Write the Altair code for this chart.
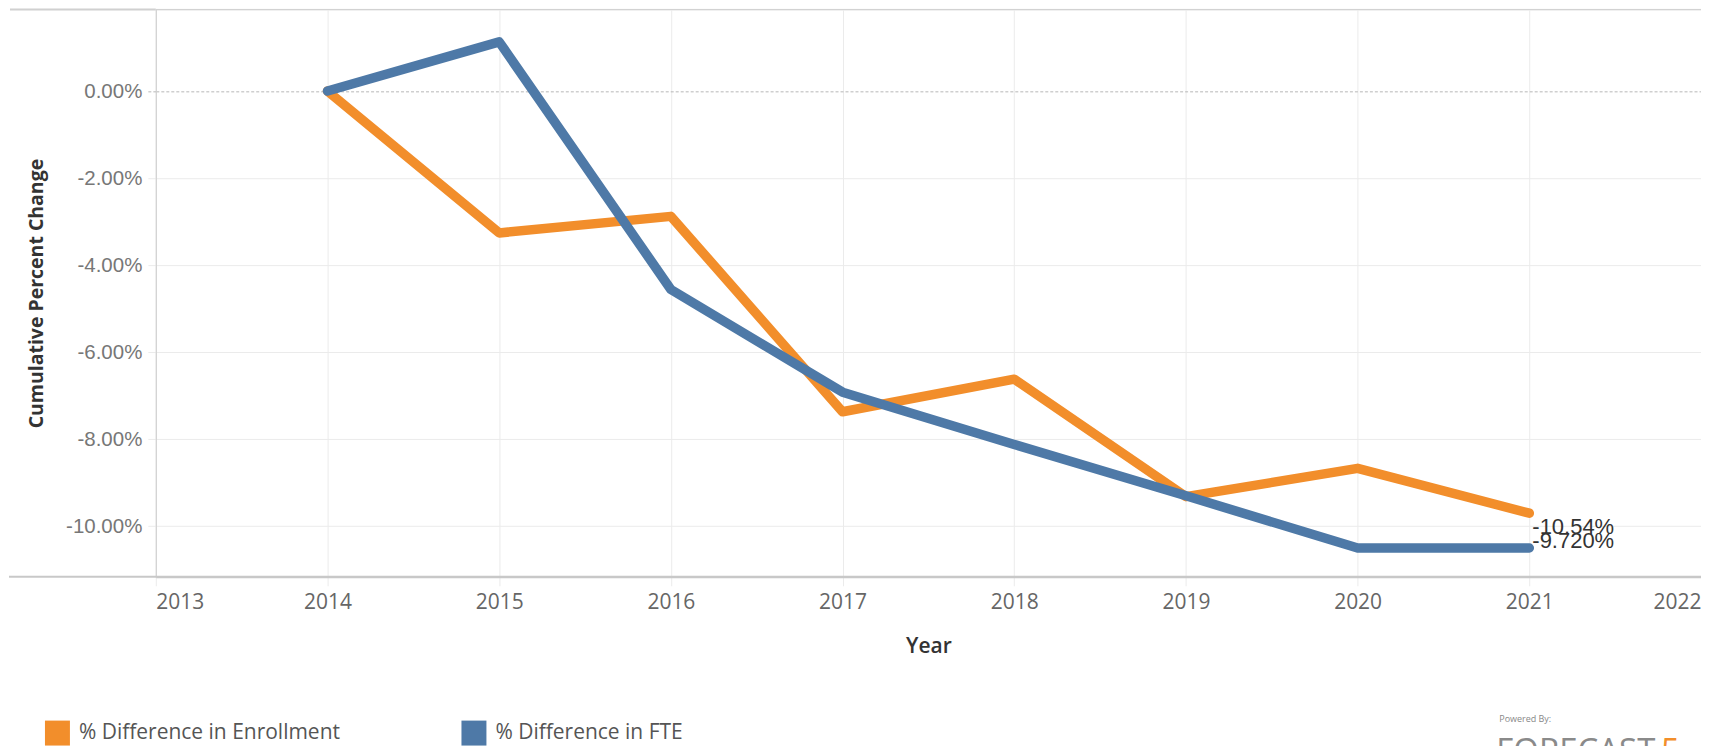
import altair as alt
import pandas as pd

# ---- data ----
years = [2014, 2015, 2016, 2017, 2018, 2019, 2020, 2021]
enrollment_pct = [0.00, -3.26, -2.88, -7.37, -6.62, -9.32, -8.67, -9.70]
fte_pct = [0.00, 1.13, -4.56, -6.92, -8.12, -9.30, -10.50, -10.50]
series_names = ["% Difference in Enrollment", "% Difference in FTE"]
series_colors = ["#F28E2B", "#4E79A7"]
end_labels = ["-10.54%", "-9.720%"]
x_ticks = [2013, 2014, 2015, 2016, 2017, 2018, 2019, 2020, 2021, 2022]
y_ticks = [0, -2, -4, -6, -8, -10]
logo_small = ["Powered By:"]
logo_big = ["FORECAST"]
logo_mark = ["5"]

rows = []
for yr, e, f in zip(years, enrollment_pct, fte_pct):
    rows.append({"Year": yr, "Series": series_names[0], "Value": e / 100})
    rows.append({"Year": yr, "Series": series_names[1], "Value": f / 100})
df = pd.DataFrame(rows)

lbl_df = pd.DataFrame({
    "Year": [years[-1], years[-1]],
    "Series": series_names,
    "Value": [enrollment_pct[-1] / 100, fte_pct[-1] / 100],
    "Label": end_labels,
})

W, H = 1547, 568
GRID = "#ebebeb"

color_scale = alt.Scale(domain=series_names, range=series_colors)

x_enc = alt.X(
    "Year:Q",
    scale=alt.Scale(domain=[2013, 2022], nice=False, zero=False),
    axis=alt.Axis(
        values=x_ticks, format="d", labelFlush=True,
        labelFont="Open Sans", labelFontSize=21, labelColor="#666",
        labelPadding=6, tickSize=9, tickColor=GRID,
        grid=True, gridColor=GRID,
        domainColor="#c8c8c8", domainWidth=2,
        title="Year", titleFont="Open Sans", titleFontSize=21,
        titleFontWeight=600, titleColor="#333",
        titleY=76, titleBaseline="alphabetic",
    ),
)

zero_test = "datum.value === 0"
y_enc = alt.Y(
    "Value:Q",
    scale=alt.Scale(domain=[-0.11161, 0.01875], nice=False, zero=False),
    axis=alt.Axis(
        values=[v / 100 for v in y_ticks], format=".2%",
        labelExpr="replace(datum.label, '\u2212', '-')",
        labelFont="Liberation Sans", labelFontSize=20.5, labelColor="#777",
        labelPadding=6, tickSize=8,
        tickColor={"condition": {"test": zero_test, "value": "#b8b8b8"}, "value": GRID},
        tickDash={"condition": {"test": zero_test, "value": [3, 2]}, "value": []},
        grid=True,
        gridColor={"condition": {"test": zero_test, "value": "#b8b8b8"}, "value": GRID},
        gridDash={"condition": {"test": zero_test, "value": [3, 2]}, "value": []},
        domainColor="#d0d0d0",
        title="Cumulative Percent Change", titleFont="Open Sans",
        titleFontSize=19.5, titleFontWeight="bold", titleColor="#333",
        titleX=-119, titleY=H / 2, titleAngle=270,
        titleAlign="center", titleBaseline="middle",
    ),
)

base = alt.Chart(df)
one = pd.DataFrame({"a": [0]})

ext_rule = alt.Chart(one).mark_rule(color="#c8c8c8", strokeWidth=2).encode(
    x=alt.value(-147), x2=alt.value(W), y=alt.value(H))
top_left_rule = alt.Chart(one).mark_rule(color="#d0d0d0", strokeWidth=2).encode(
    x=alt.value(-146), x2=alt.value(0), y=alt.value(0))
top_rule = alt.Chart(one).mark_rule(color="#d0d0d0", strokeWidth=1).encode(
    x=alt.value(0), x2=alt.value(W), y=alt.value(0))

squares = base.mark_square(size=0, filled=True, opacity=1).encode(
    x=x_enc, y=y_enc,
    color=alt.Color(
        "Series:N", scale=color_scale,
        legend=alt.Legend(
            title=None, orient="none", legendX=-111, legendY=712,
            direction="horizontal", columns=2, columnPadding=121,
            symbolType="square", symbolSize=625, symbolStrokeWidth=0,
            symbolOpacity=1, labelFont="Open Sans", labelFontSize=21,
            labelColor="#555", labelOffset=9, padding=0, labelLimit=400,
        ),
    ),
)

lines = base.mark_line(strokeWidth=9.5, strokeCap="round", strokeJoin="round").encode(
    x=x_enc, y=y_enc,
    color=alt.Color("Series:N", scale=color_scale, legend=None),
)

txt_common = dict(align="left", baseline="alphabetic", dx=3,
                  font="Liberation Sans", fontSize=22, color="#333")
text1 = alt.Chart(lbl_df).transform_filter(
    alt.datum.Series == series_names[0]
).mark_text(dy=21, **txt_common).encode(x=x_enc, y=y_enc, text="Label:N")
text2 = alt.Chart(lbl_df).transform_filter(
    alt.datum.Series == series_names[1]
).mark_text(dy=0, **txt_common).encode(x=x_enc, y=y_enc, text="Label:N")

logo1 = alt.Chart(pd.DataFrame({"t": logo_small})).mark_text(
    align="left", baseline="middle", font="Open Sans", fontSize=9, color="#888"
).encode(text="t:N", x=alt.value(1345), y=alt.value(710))
logo2 = alt.Chart(pd.DataFrame({"t": logo_big})).mark_text(
    align="left", baseline="alphabetic", font="Open Sans", fontSize=33,
    color="#8a8a8a"
).encode(text="t:N", x=alt.value(1342), y=alt.value(753))
logo3 = alt.Chart(pd.DataFrame({"t": logo_mark})).mark_text(
    align="left", baseline="alphabetic", font="Open Sans", fontSize=33,
    color="#F28E2B"
).encode(text="t:N", x=alt.value(1507), y=alt.value(753))

chart = alt.layer(
    ext_rule, top_left_rule, top_rule, squares, lines, text1, text2,
    logo1, logo2, logo3
).properties(
    width=W, height=H,
    padding={"left": 148, "top": 1, "right": 0, "bottom": 169},
    autosize=alt.AutoSizeParams(type="none"),
).configure_view(stroke=None).configure(background="white")

chart.save("out.html", embed_options={"renderer": "svg", "actions": False})
